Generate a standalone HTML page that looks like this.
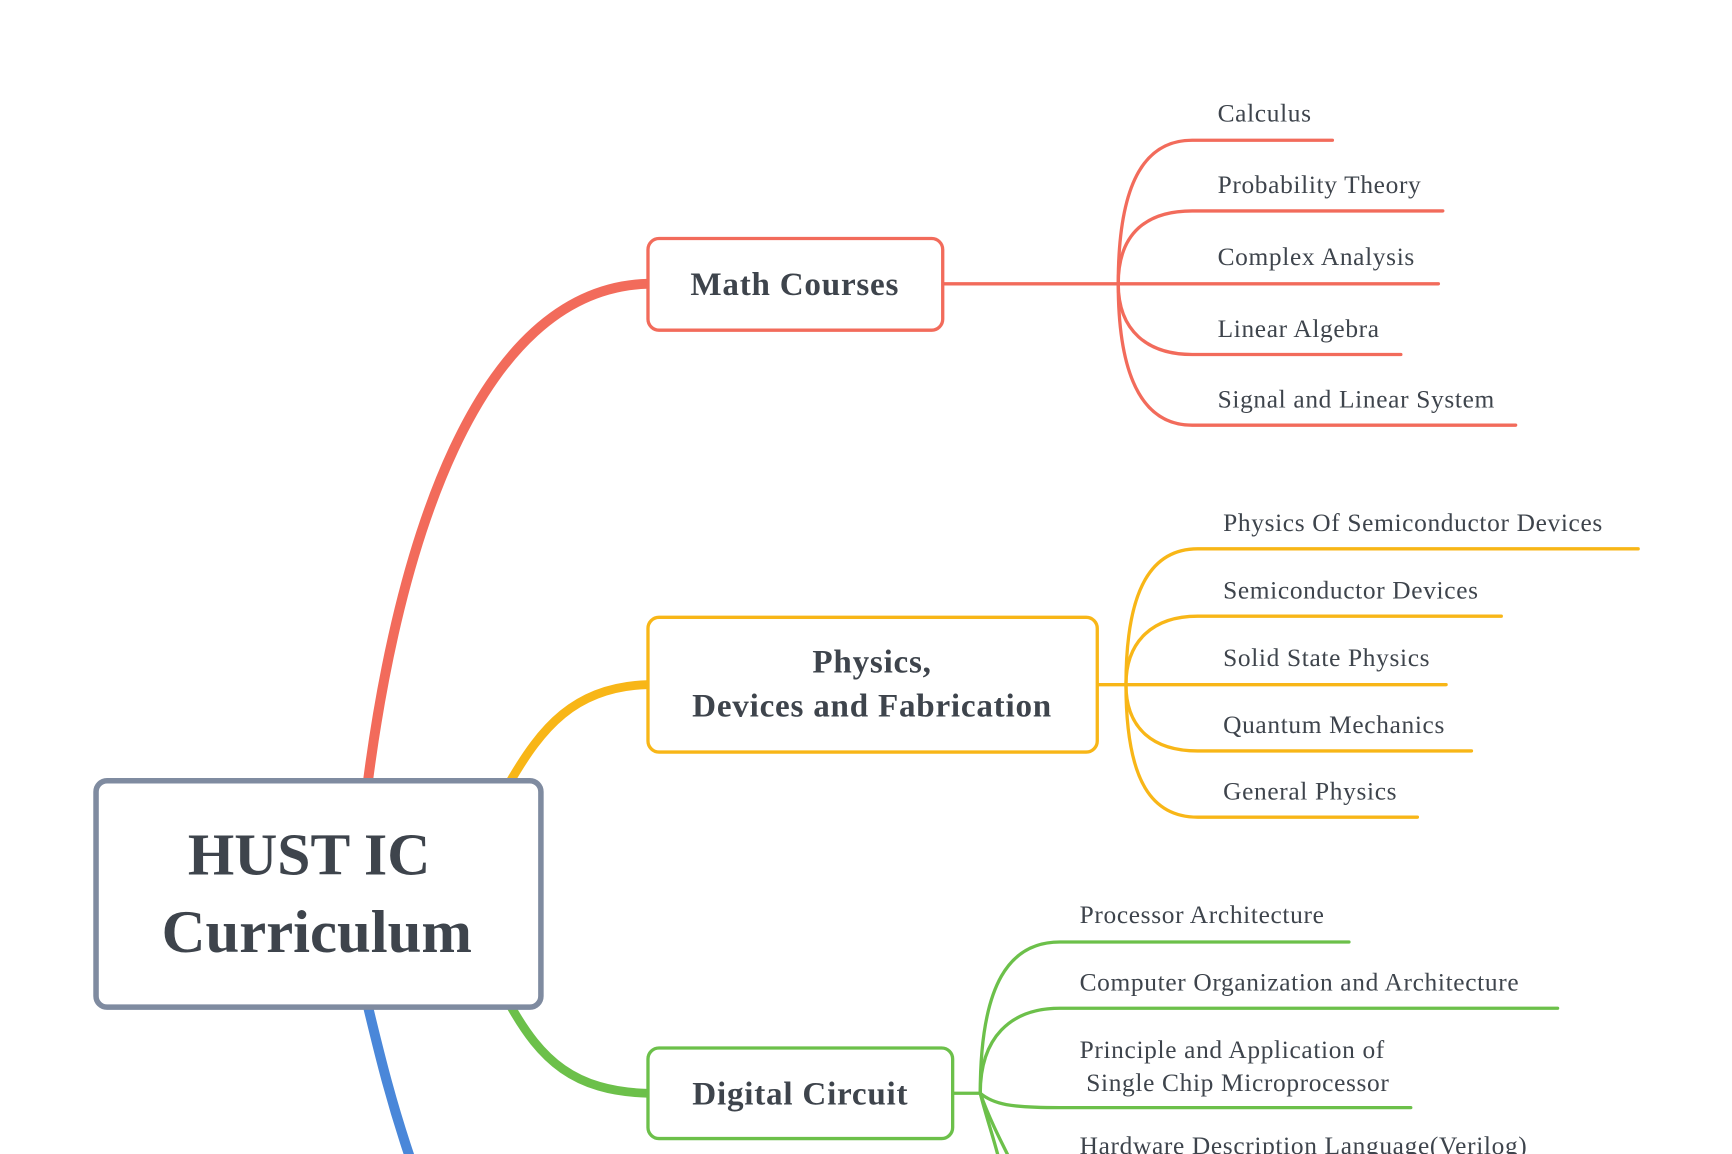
<!DOCTYPE html>
<html><head><meta charset="utf-8"><style>
html,body{margin:0;padding:0;background:#fff;}
svg{display:block;}
text{font-family:"Liberation Serif",serif;fill:#3e444c;}
.l{font-size:23px;letter-spacing:0.6px;}
.b{font-weight:bold;font-size:30px;letter-spacing:0.7px;}
</style></head><body>
<svg width="1732" height="1154" viewBox="0 0 1569 1045" preserveAspectRatio="none">
<g fill="none" stroke-linecap="round">
<path d="M333 710 C360 500 430 262 586 257" stroke="#f26b5b" stroke-width="9"/>
<path d="M462 708 C490 660 520 622 586 620" stroke="#f8b617" stroke-width="8"/>
<path d="M462 910 C490 960 520 988 586 990" stroke="#6cc04a" stroke-width="8"/>
<path d="M333 910 C345 960 355 1000 372 1050" stroke="#4a87d9" stroke-width="9"/>
<g stroke="#f26b5b" stroke-width="3">
<path d="M854 257 L1013 257"/>
<path d="M1013 257 C1013 160 1040 127 1080 127 L1207 127"/>
<path d="M1013 257 C1013 210 1040 191 1080 191 L1307 191"/>
<path d="M1013 257 L1303 257"/>
<path d="M1013 257 C1013 300 1040 321 1080 321 L1269 321"/>
<path d="M1013 257 C1013 350 1040 385 1080 385 L1373 385"/>
</g>
<g stroke="#f8b617" stroke-width="3">
<path d="M994 620 L1020 620"/>
<path d="M1020 620 C1020 530 1045 497 1085 497 L1484 497"/>
<path d="M1020 620 C1020 580 1045 558 1085 558 L1360 558"/>
<path d="M1020 620 L1310 620"/>
<path d="M1020 620 C1020 660 1045 680 1085 680 L1333 680"/>
<path d="M1020 620 C1020 710 1045 740 1085 740 L1284 740"/>
</g>
<g stroke="#6cc04a" stroke-width="3">
<path d="M863 990 L888 990"/>
<path d="M888 990 C888 890 915 853 960 853 L1222 853"/>
<path d="M888 990 C888 940 915 913 960 913 L1411 913"/>
<path d="M888 990 C900 1000 915 1003 960 1003 L1278 1003"/>
<path d="M888 990 C895 1010 905 1030 915 1050"/>
<path d="M888 990 C893 1010 900 1030 905 1050"/>
</g>
<rect x="87" y="707" width="403" height="205" rx="10" fill="#fff" stroke="#7f8ba0" stroke-width="5"/>
<rect x="587" y="216" width="267" height="83" rx="10" fill="#fff" stroke="#f26b5b" stroke-width="3"/>
<rect x="587" y="559" width="407" height="122" rx="10" fill="#fff" stroke="#f8b617" stroke-width="3"/>
<rect x="587" y="949" width="276" height="82" rx="10" fill="#fff" stroke="#6cc04a" stroke-width="3"/>
</g>
<text x="280" y="792" text-anchor="middle" style="font-size:54px;font-weight:bold">HUST IC</text>
<text x="287" y="862" text-anchor="middle" style="font-size:55px;font-weight:bold">Curriculum</text>
<text class="b" x="720" y="267" text-anchor="middle">Math Courses</text>
<text class="b" x="790" y="609" text-anchor="middle">Physics,</text>
<text class="b" x="790" y="649" text-anchor="middle">Devices and Fabrication</text>
<text class="b" x="725" y="1000" text-anchor="middle">Digital Circuit</text>
<text class="l" x="1103" y="110">Calculus</text>
<text class="l" x="1103" y="175">Probability Theory</text>
<text class="l" x="1103" y="240">Complex Analysis</text>
<text class="l" x="1103" y="305">Linear Algebra</text>
<text class="l" x="1103" y="369">Signal and Linear System</text>
<text class="l" x="1108" y="481">Physics Of Semiconductor Devices</text>
<text class="l" x="1108" y="542">Semiconductor Devices</text>
<text class="l" x="1108" y="603">Solid State Physics</text>
<text class="l" x="1108" y="664">Quantum Mechanics</text>
<text class="l" x="1108" y="724">General Physics</text>
<text class="l" x="978" y="836">Processor Architecture</text>
<text class="l" x="978" y="897">Computer Organization and Architecture</text>
<text class="l" x="978" y="958">Principle and Application of</text>
<text class="l" x="984" y="988">Single Chip Microprocessor</text>
<text class="l" x="978" y="1045">Hardware Description Language(Verilog)</text>
</svg>
</body></html>
